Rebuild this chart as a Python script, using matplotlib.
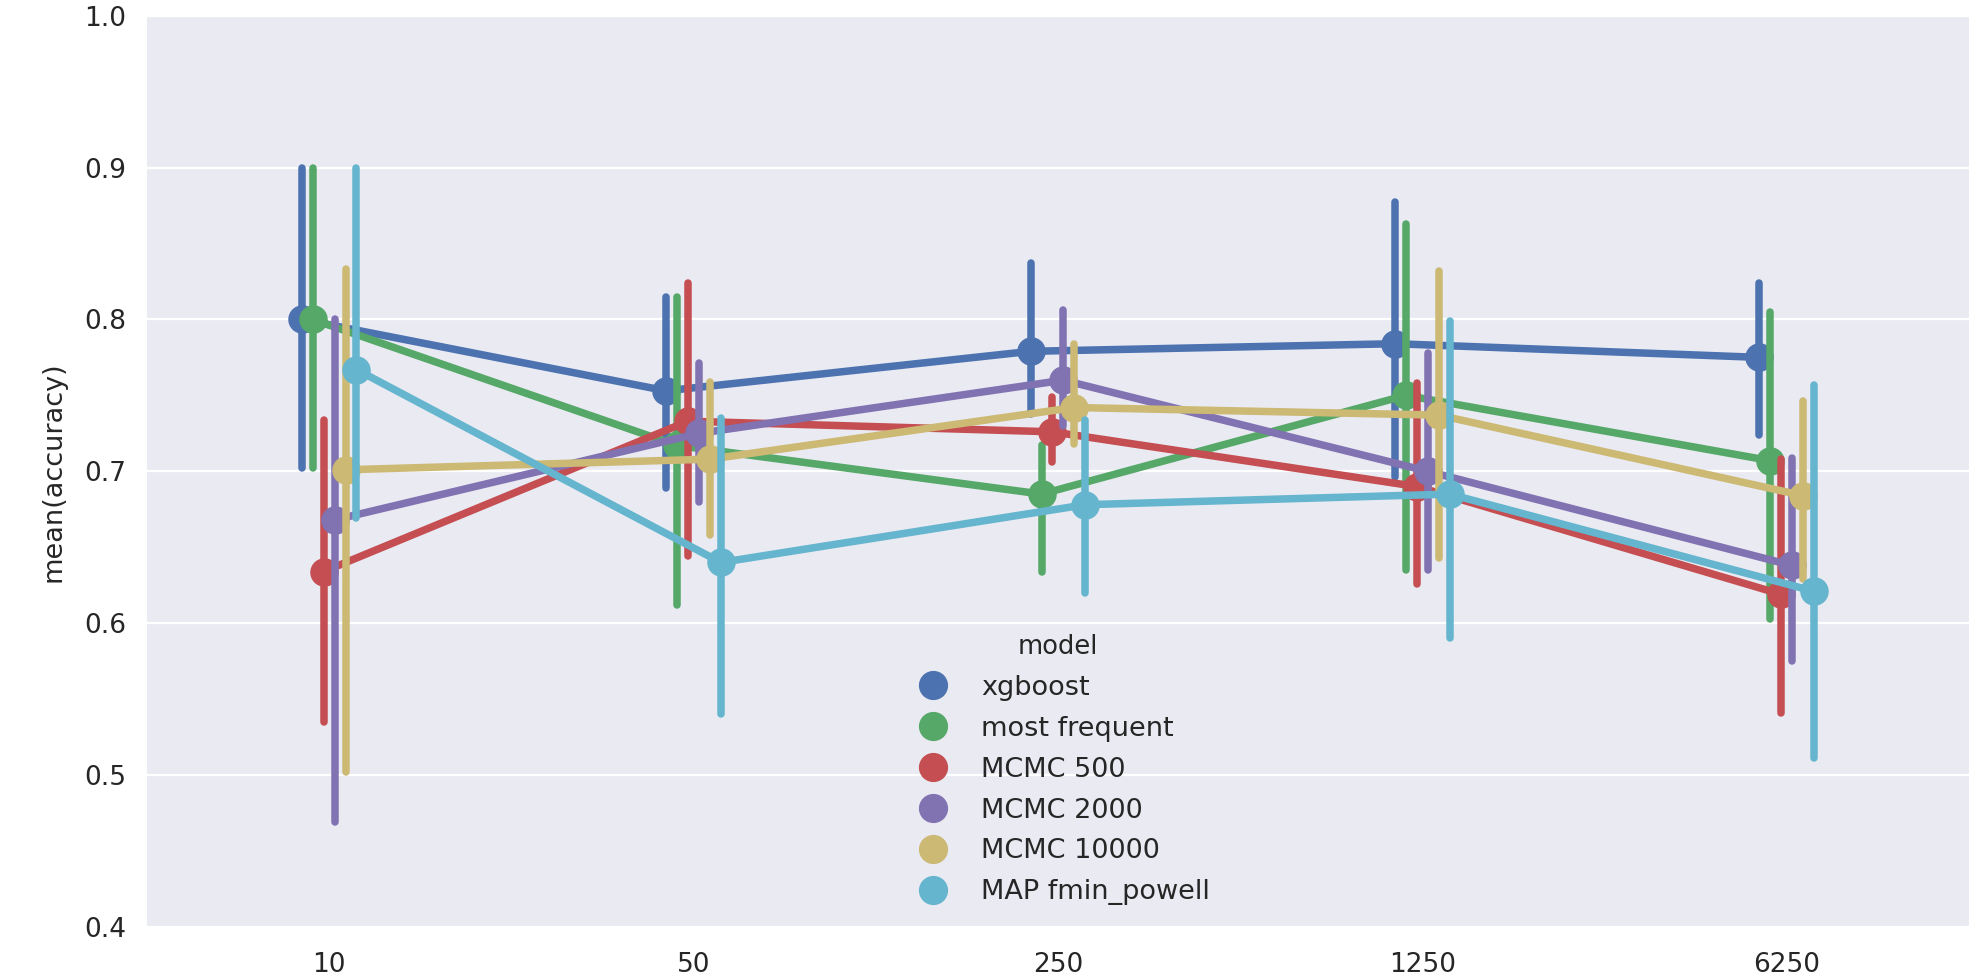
import numpy as np
import matplotlib
matplotlib.use("Agg")
import matplotlib.pyplot as plt
from matplotlib.lines import Line2D

# ---- data ----
categories = ["10", "50", "250", "1250", "6250"]
models = ["xgboost", "most frequent", "MCMC 500", "MCMC 2000", "MCMC 10000", "MAP fmin_powell"]

mean_xgboost = [0.800, 0.753, 0.779, 0.784, 0.775]
mean_most_frequent = [0.800, 0.717, 0.685, 0.750, 0.707]
mean_mcmc500 = [0.634, 0.733, 0.726, 0.690, 0.619]
mean_mcmc2000 = [0.668, 0.725, 0.760, 0.700, 0.638]
mean_mcmc10000 = [0.701, 0.708, 0.742, 0.737, 0.684]
mean_map = [0.767, 0.640, 0.678, 0.685, 0.621]

lo_xgboost = [0.702, 0.689, 0.738, 0.696, 0.724]
hi_xgboost = [0.900, 0.815, 0.837, 0.877, 0.824]
lo_most_frequent = [0.702, 0.612, 0.634, 0.635, 0.603]
hi_most_frequent = [0.900, 0.815, 0.717, 0.863, 0.805]
lo_mcmc500 = [0.535, 0.644, 0.706, 0.626, 0.541]
hi_mcmc500 = [0.734, 0.824, 0.749, 0.758, 0.708]
lo_mcmc2000 = [0.469, 0.680, 0.730, 0.635, 0.575]
hi_mcmc2000 = [0.800, 0.771, 0.806, 0.778, 0.709]
lo_mcmc10000 = [0.502, 0.658, 0.718, 0.643, 0.629]
hi_mcmc10000 = [0.833, 0.759, 0.784, 0.832, 0.746]
lo_map = [0.669, 0.540, 0.620, 0.590, 0.511]
hi_map = [0.900, 0.735, 0.734, 0.799, 0.757]

means = [mean_xgboost, mean_most_frequent, mean_mcmc500, mean_mcmc2000, mean_mcmc10000, mean_map]
lows = [lo_xgboost, lo_most_frequent, lo_mcmc500, lo_mcmc2000, lo_mcmc10000, lo_map]
highs = [hi_xgboost, hi_most_frequent, hi_mcmc500, hi_mcmc2000, hi_mcmc10000, hi_map]

colors = ["#4C72B0", "#55A868", "#C44E52", "#8172B2", "#CCB974", "#64B5CD"]

plt.rcParams["font.family"] = ["DejaVu Sans"]
plt.rcParams["lines.solid_capstyle"] = "round"

fig = plt.figure(figsize=(19.88, 9.76), dpi=100)
ax = fig.add_axes([0.0739, 0.0502, 0.9165, 0.9338])
ax.set_facecolor("#EAEAF2")
for s in ax.spines.values():
    s.set_visible(False)
ax.grid(True, axis="y", color="white", linewidth=1.6, zorder=0)
ax.set_axisbelow(True)

lw = 5.4
ms = 19.5
n = len(models)
dodge = 0.025 * n
offsets = np.linspace(0, dodge, n)
offsets -= offsets.mean()
xpos = np.arange(len(categories))

for j in range(n):
    x = xpos + offsets[j]
    z = j + 1
    ax.plot(x, means[j], color=colors[j], lw=lw, zorder=z)
    for k in range(len(categories)):
        ax.plot([x[k], x[k]], [lows[j][k], highs[j][k]], color=colors[j], lw=lw,
                zorder=z, solid_capstyle="round")
    ax.plot(x, means[j], ls="", marker="o", markersize=ms, color=colors[j], zorder=z)

ax.set_xlim(-0.5, len(categories) - 0.5)
ax.set_ylim(0.4, 1.0)
ax.set_xticks(xpos)
ax.set_xticklabels(categories)
ax.set_yticks([0.4, 0.5, 0.6, 0.7, 0.8, 0.9, 1.0])
ax.set_yticklabels(["0.4", "0.5", "0.6", "0.7", "0.8", "0.9", "1.0"])
ax.tick_params(axis="both", length=0, labelsize=19, labelcolor="#262626")
ax.tick_params(axis="y", pad=15)
ax.tick_params(axis="x", pad=18)
ax.set_ylabel("mean(accuracy)", fontsize=19.5, color="#262626", labelpad=13)

handles = [Line2D([], [], ls="", marker="o", markersize=20, color=c) for c in colors]
leg = ax.legend(handles, models, title="model", loc="lower center", frameon=False,
                fontsize=19.5, title_fontsize=18.5, labelspacing=0.55,
                borderaxespad=0.4)
for t in leg.get_texts():
    t.set_color("#262626")
leg.get_title().set_color("#262626")

fig.savefig("out.png", dpi=100, facecolor="white")
